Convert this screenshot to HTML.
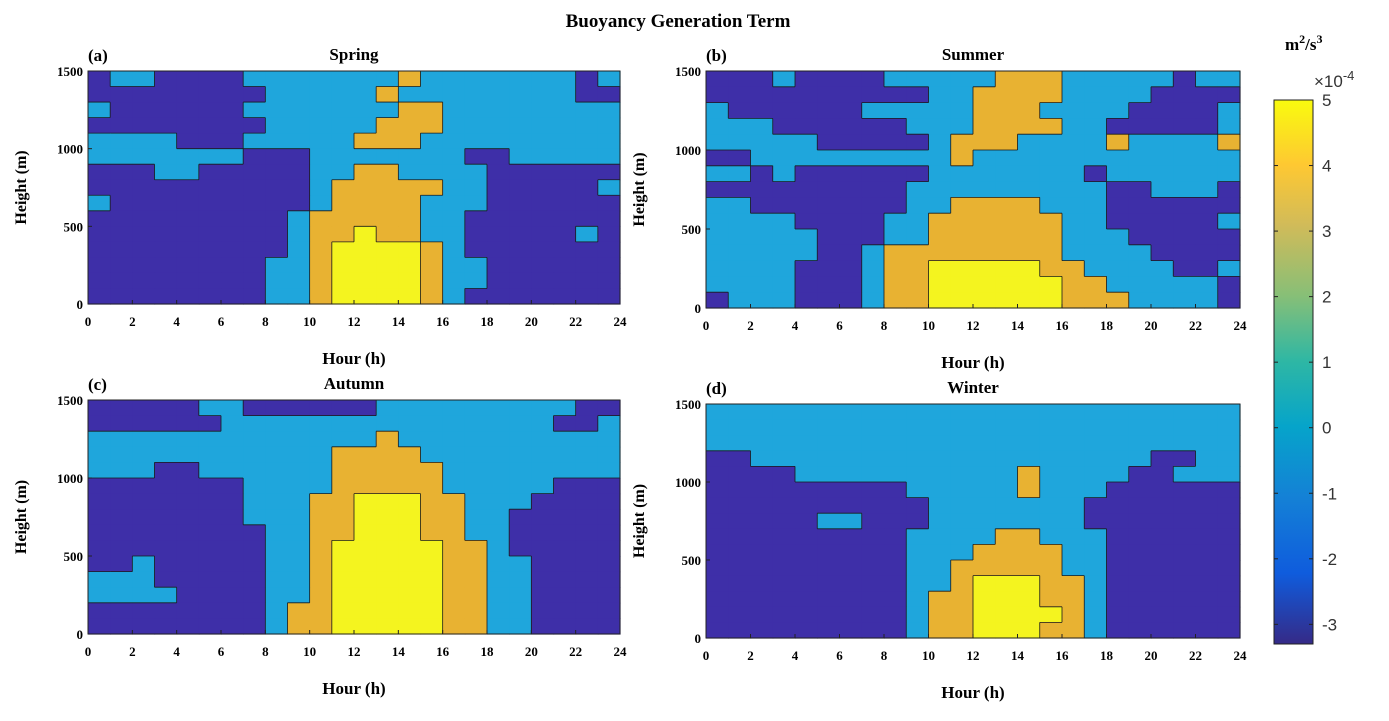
<!DOCTYPE html>
<html><head><meta charset="utf-8"><style>
html,body{margin:0;padding:0;background:#fff;}
svg text{font-family:"Liberation Serif",serif;font-weight:bold;fill:#000;}
</style></head><body>
<svg id="chart" width="1389" height="716" viewBox="0 0 1389 716" xmlns="http://www.w3.org/2000/svg">
<defs>
<linearGradient id="parula" x1="0" y1="1" x2="0" y2="0">
<stop offset="0" stop-color="#352a87"/><stop offset="0.13" stop-color="#0f5cdd"/>
<stop offset="0.27" stop-color="#1481d6"/><stop offset="0.4" stop-color="#06a4ca"/>
<stop offset="0.52" stop-color="#2eb7a4"/><stop offset="0.64" stop-color="#87bf77"/>
<stop offset="0.77" stop-color="#d1bb59"/><stop offset="0.88" stop-color="#fec832"/>
<stop offset="1" stop-color="#f9fb0e"/>
</linearGradient>
</defs>
<text x="678" y="27" text-anchor="middle" font-size="19">Buoyancy Generation Term</text>
<g id="panels"></g>
<g id="cbar"></g>
</svg>
<script>
const hourTicks=[0,2,4,6,8,10,12,14,16,18,20,22,24];
const heightTicks=[0,500,1000,1500];
const levelColors=["#3e2fa8","#1fa6dc","#e8b232","#f4f41f"];
const cbarTicks=[5,4,3,2,1,0,-1,-2,-3];
const spring=[
"011000011111112111111101","000000001111121111111100","100000011111112211111111",
"000000001111122211111111","111100011111222111111111","111111100011111110011111",
"000110000011221111000000","000000000012222211000001","100000000012222111000000",
"000000000122222110000000","000000000122322110000010","000000000123333210000000",
"000000001123333211000000","000000001123333211000000","000000001123333210000000"];
const summer=[
"000100001111122211111011","000000000011222211110000","100000011111222111100001",
"111000000111222211000001","111110000012221111211112","001111111112111111111111",
"110100000011111110111111","000000000111111111001110","110000000112222111000000",
"111100001122222211000001","111110001122222211100000","111110012222222211110000",
"111100012233333221111001","111100012233333322111110","011100012233333322211110"];
const autumn=[
"000001100000011111111100","000000111111111111111001","111111111111121111111111",
"111111111112222111111111","111001111112222211111111","000000011112222211111000",
"000000011122333221110000","000000011122333221100000","000000001122333221100000",
"000000001123333322100000","001000001123333322110000","111000001123333322110000",
"111100001123333322110000","000000001223333322110000","000000001223333322110000"];
const winter=[
"111111111111111111111111","111111111111111111111111","111111111111111111111111",
"001111111111111111110011","000011111111112111100111","000000000111112111000000",
"000000000011111110000000","000001100011111110000000","000000000111122111000000",
"000000000111222211000000","000000000112222211000000","000000000112333221000000",
"000000000122333221000000","000000000122333321000000","000000000122333221000000"];
const NS="http://www.w3.org/2000/svg";
function mk(tag,attrs,parent){const e=document.createElementNS(NS,tag);for(const k in attrs)e.setAttribute(k,attrs[k]);parent.appendChild(e);return e;}
const panelsG=document.getElementById('panels');
const panels=[
{grid:spring,x0:88,x1:620,y0:71,y1:304,letter:"(a)",title:"Spring",key:"spring"},
{grid:summer,x0:706,x1:1240,y0:71,y1:308,letter:"(b)",title:"Summer",key:"summer"},
{grid:autumn,x0:88,x1:620,y0:400,y1:634,letter:"(c)",title:"Autumn",key:"autumn"},
{grid:winter,x0:706,x1:1240,y0:404,y1:638,letter:"(d)",title:"Winter",key:"winter"}];
panels.forEach(p=>{
  const g=mk('g',{},panelsG);
  
  
  const xs=h=>p.x0+h/24*(p.x1-p.x0);
  const ys=z=>p.y1-z/1500*(p.y1-p.y0);
  p.grid.forEach((row,ri)=>{
    const zTop=1500-ri*100, zBot=zTop-100;
    for(let c=0;c<row.length;c++){
      const r=mk('rect',{x:xs(c),y:ys(zTop),width:xs(c+1)-xs(c)+0.6,height:ys(zBot)-ys(zTop)+0.6,fill:levelColors[+row[c]]},g);
      
      
    }
  });
  // contour edges between differing levels
  let d="";
  p.grid.forEach((row,ri)=>{
    const zTop=1500-ri*100, zBot=zTop-100;
    for(let c=0;c<row.length;c++){
      if(c<row.length-1 && row[c]!==row[c+1]) d+=`M${xs(c+1)},${ys(zTop)}V${ys(zBot)}`;
      if(ri<p.grid.length-1 && row[c]!==p.grid[ri+1][c]) d+=`M${xs(c)},${ys(zBot)}H${xs(c+1)}`;
    }
  });
  const cl=mk('path',{d:d,fill:'none',stroke:'#1a1a1a','stroke-width':0.8},g);
  
  
  const fr=mk('rect',{x:p.x0,y:p.y0,width:p.x1-p.x0,height:p.y1-p.y0,fill:'none',stroke:'#222','stroke-width':1},g);
  
  
  hourTicks.forEach(h=>{
    mk('line',{x1:xs(h),x2:xs(h),y1:p.y1,y2:p.y1-4,stroke:'#222'},g);
    const t=mk('text',{x:xs(h),y:p.y1+22,'text-anchor':'middle','font-size':13},g);
    t.textContent=h;
    
    
  });
  heightTicks.forEach(z=>{
    mk('line',{x1:p.x0,x2:p.x0+4,y1:ys(z),y2:ys(z),stroke:'#222'},g);
    const t=mk('text',{x:p.x0-5,y:ys(z)+5,'text-anchor':'end','font-size':13},g);
    t.textContent=z;
    
    
  });
  const xt=mk('text',{x:(p.x0+p.x1)/2,y:p.y1+60,'text-anchor':'middle','font-size':17},g);
  xt.textContent="Hour (h)";
  
  
  const cy=(p.y0+p.y1)/2;
  const yt=mk('text',{x:p.x0-62,y:cy,'text-anchor':'middle','font-size':16,transform:`rotate(-90 ${p.x0-62} ${cy})`},g);
  yt.textContent="Height (m)";
  
  
  const lt=mk('text',{x:p.x0,y:p.y0-10,'font-size':17},g);
  lt.textContent=p.letter;
  
  
  const tt=mk('text',{x:(p.x0+p.x1)/2,y:p.y0-11,'text-anchor':'middle','font-size':17},g);
  tt.textContent=p.title;
  
  
});
const cb=document.getElementById('cbar');


const vmin=-3.3,vmax=5,cy0=100,cy1=644;
const cys=v=>cy1-(v-vmin)/(vmax-vmin)*(cy1-cy0);
const cr=mk('rect',{x:1274,y:cy0,width:39,height:cy1-cy0,fill:'url(#parula)',stroke:'#222','stroke-width':1},cb);


cbarTicks.forEach(v=>{
  mk('line',{x1:1309,x2:1313,y1:cys(v),y2:cys(v),stroke:'#222'},cb);
  mk('line',{x1:1274,x2:1278,y1:cys(v),y2:cys(v),stroke:'#222'},cb);
  const t=mk('text',{x:1322,y:cys(v)+6,'font-size':17,style:'font-family:"Liberation Sans",sans-serif;font-weight:normal;fill:#333'},cb);
  t.textContent=v;
  
  
});
const ex=mk('text',{x:1314,y:87,'font-size':17,style:'font-family:"Liberation Sans",sans-serif;font-weight:normal;fill:#333'},cb);
ex.innerHTML='×10<tspan dy="-7" font-size="13">-4</tspan>';


const un=mk('text',{x:1285,y:50,'font-size':17},cb);
un.innerHTML='m<tspan dy="-7" font-size="12">2</tspan><tspan dy="7">/s</tspan><tspan dy="-7" font-size="12">3</tspan>';


</script>
</body></html>
